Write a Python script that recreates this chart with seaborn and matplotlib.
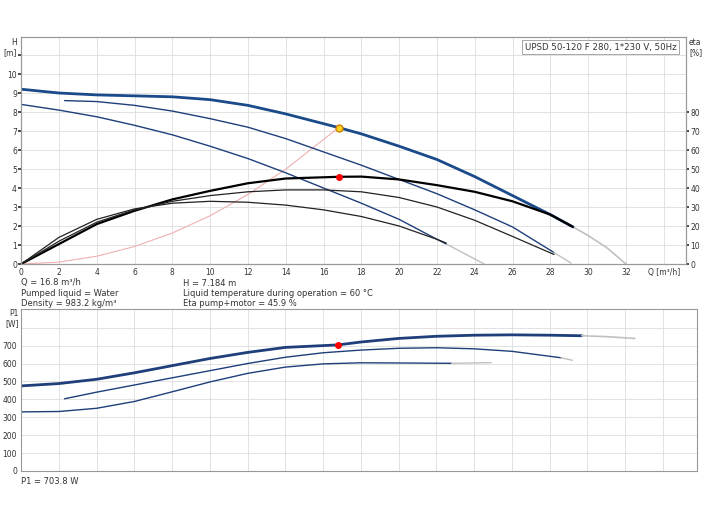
import matplotlib
matplotlib.use("Agg")
import matplotlib.pyplot as plt
import seaborn as sns
import pandas as pd

sns.set_theme(style="whitegrid")
plt.rcParams['font.family'] = ['DejaVu Sans']

# H curves
h1_q = [0, 2, 4, 6, 8, 10, 12, 14, 16.8, 18, 20, 22, 24, 26, 28, 29.2]
h1_v = [9.2, 9.0, 8.9, 8.85, 8.8, 8.65, 8.35, 7.9, 7.18, 6.85, 6.2, 5.5, 4.6, 3.6, 2.6, 1.95]
h1x_q = [29.2, 30, 31, 32]
h1x_v = [1.95, 1.5, 0.85, 0.0]
h2_q = [2.3, 4, 6, 8, 10, 12, 14, 16, 18, 20, 22, 24, 26, 28.2]
h2_v = [8.6, 8.55, 8.35, 8.05, 7.65, 7.2, 6.6, 5.9, 5.2, 4.45, 3.7, 2.85, 1.95, 0.6]
h2x_q = [28.2, 29.1]
h2x_v = [0.6, 0.05]
h3_q = [0, 2, 4, 6, 8, 10, 12, 14, 16, 18, 20, 22, 22.5]
h3_v = [8.4, 8.1, 7.75, 7.3, 6.8, 6.2, 5.55, 4.8, 4.0, 3.2, 2.35, 1.3, 1.05]
h3x_q = [22.5, 24.5]
h3x_v = [1.05, 0.0]
# eta curves (%)
e1_q = [0, 2, 4, 6, 8, 10, 12, 14, 16.8, 18, 20, 22, 24, 26, 28, 29.2]
e1_v = [0, 10.5, 21, 28, 34, 38.5, 42.5, 45, 45.9, 46, 44.5, 41.5, 38, 33, 26, 19.5]
e2_q = [0, 2, 4, 6, 8, 10, 12, 14, 16, 18, 20, 22, 24, 26, 28.2]
e2_v = [0, 12, 22, 28.5, 33, 36, 38, 39, 39, 38, 35, 30, 23, 14.5, 5]
e3_q = [0, 2, 4, 6, 8, 10, 12, 14, 16, 18, 20, 22, 22.5]
e3_v = [0, 14, 23.5, 29, 32, 33, 32.5, 31, 28.5, 25, 20, 13, 11]
# system curve
s_q = [0, 2, 4, 6, 8, 10, 12, 14, 16.8]
s_v = [0, 0.1, 0.41, 0.92, 1.63, 2.54, 3.66, 4.99, 7.18]
# P1 curves
p1_q = [0, 2, 4, 6, 8, 10, 12, 14, 16.8, 18, 20, 22, 24, 26, 28, 29.7]
p1_v = [475, 488, 512, 548, 588, 628, 662, 690, 704, 720, 740, 752, 758, 760, 758, 755]
p1x_q = [29.7, 31, 32.5]
p1x_v = [755, 750, 740]
p2_q = [2.3, 4, 6, 8, 10, 12, 14, 16, 18, 20, 22, 24, 26, 28.6]
p2_v = [403, 440, 480, 520, 560, 600, 635, 660, 675, 685, 688, 682, 668, 632]
p2x_q = [28.6, 29.2]
p2x_v = [632, 618]
p3_q = [0, 2, 4, 6, 8, 10, 12, 14, 16, 18, 20, 22.8]
p3_v = [330, 332, 350, 388, 442, 497, 545, 580, 598, 604, 603, 601]
p3x_q = [22.8, 24.9]
p3x_v = [601, 605]

op_q, op_h, op_eta, op_p = 16.8, 7.184, 45.9, 703.8

fig = plt.figure(figsize=(7.04, 5.28), dpi=100)
ax = fig.add_axes([0.03, 0.5, 0.945, 0.43])
axb = fig.add_axes([0.03, 0.108, 0.96, 0.307])

blue = "#1f3f7a"
def line(a, q, v, **kw):
    sns.lineplot(x=q, y=v, ax=a, sort=False, estimator=None, **kw)

line(ax, s_q, s_v, color="#f0b0b0", lw=0.8)
line(ax, h1_q, h1_v, color="#1a4a8a", lw=2.0)
line(ax, h1x_q, h1x_v, color="#c0c0c0", lw=1.2)
line(ax, h2_q, h2_v, color=blue, lw=1.0)
line(ax, h2x_q, h2x_v, color="#c0c0c0", lw=1.0)
line(ax, h3_q, h3_v, color=blue, lw=1.0)
line(ax, h3x_q, h3x_v, color="#c0c0c0", lw=1.0)
line(ax, e1_q, [v / 10 for v in e1_v], color="black", lw=1.6)
line(ax, e2_q, [v / 10 for v in e2_v], color="#222222", lw=0.9)
line(ax, e3_q, [v / 10 for v in e3_v], color="#222222", lw=0.9)
ax.plot([op_q], [op_h], 'o', ms=5, mfc="#ffd21f", mec="#d08000", zorder=5)
ax.plot([op_q], [op_eta / 10], 'o', ms=4, color="red", zorder=5)

ax.set_xlim(0, 35.2)
ax.set_ylim(0, 11.95)
ax.set_xticks(range(0, 35, 2))
ax.set_xticklabels([str(i) for i in range(0, 33, 2)] + ["Q [m³/h]"])
ax.set_yticks(range(0, 12))
ax.set_yticklabels([str(i) for i in range(0, 11)] + [""])
ax2 = ax.twinx()
ax2.set_ylim(0, 119.5)
ax2.set_yticks(range(0, 90, 10))
ax2.grid(False)
for a in (ax, ax2, axb):
    a.tick_params(labelsize=5.5, colors="#333333", length=2, pad=1)
    for s in a.spines.values():
        s.set_color("#999999"); s.set_linewidth(0.8)
ax.grid(color="#dddddd", lw=0.6)
ax.text(-0.006, 0.995, "H\n[m]", transform=ax.transAxes, fontsize=5.5, ha="right", va="top", color="#333")
ax.text(1.004, 0.995, "eta\n[%]", transform=ax.transAxes, fontsize=5.5, ha="left", va="top", color="#333")
ax.text(0.985, 0.975, "UPSD 50-120 F 280, 1*230 V, 50Hz", transform=ax.transAxes, fontsize=6.2,
        ha="right", va="top", color="#333", bbox=dict(fc="white", ec="#999999", lw=0.6, pad=2))

line(axb, p1_q, p1_v, color=blue, lw=2.0)
line(axb, p1x_q, p1x_v, color="#c0c0c0", lw=1.2)
line(axb, p2_q, p2_v, color=blue, lw=1.0)
line(axb, p2x_q, p2x_v, color="#c0c0c0", lw=1.0)
line(axb, p3_q, p3_v, color=blue, lw=1.0)
line(axb, p3x_q, p3x_v, color="#c0c0c0", lw=1.0)
axb.plot([op_q], [op_p], 'o', ms=4, color="red", zorder=5)
axb.set_xlim(0, 35.8)
axb.set_ylim(0, 905)
axb.set_xticks(range(0, 36, 2))
axb.set_xticklabels([])
axb.set_yticks(range(0, 900, 100))
axb.set_yticklabels([str(i) for i in range(0, 800, 100)] + [""])
axb.grid(color="#dddddd", lw=0.6)
axb.text(-0.004, 1.0, "P1\n[W]", transform=axb.transAxes, fontsize=5.5, ha="right", va="top", color="#333")

fs = 6.0
fig.text(21/704, 1 - 283/528, "Q = 16.8 m³/h", fontsize=fs, va="center", color="#333")
fig.text(21/704, 1 - 293/528, "Pumped liquid = Water", fontsize=fs, va="center", color="#333")
fig.text(21/704, 1 - 303/528, "Density = 983.2 kg/m³", fontsize=fs, va="center", color="#333")
fig.text(183/704, 1 - 283/528, "H = 7.184 m", fontsize=fs, va="center", color="#333")
fig.text(183/704, 1 - 293/528, "Liquid temperature during operation = 60 °C", fontsize=fs, va="center", color="#333")
fig.text(183/704, 1 - 303/528, "Eta pump+motor = 45.9 %", fontsize=fs, va="center", color="#333")
fig.text(21/704, 1 - 481/528, "P1 = 703.8 W", fontsize=fs, va="center", color="#333")

fig.savefig("out.png", dpi=100)
